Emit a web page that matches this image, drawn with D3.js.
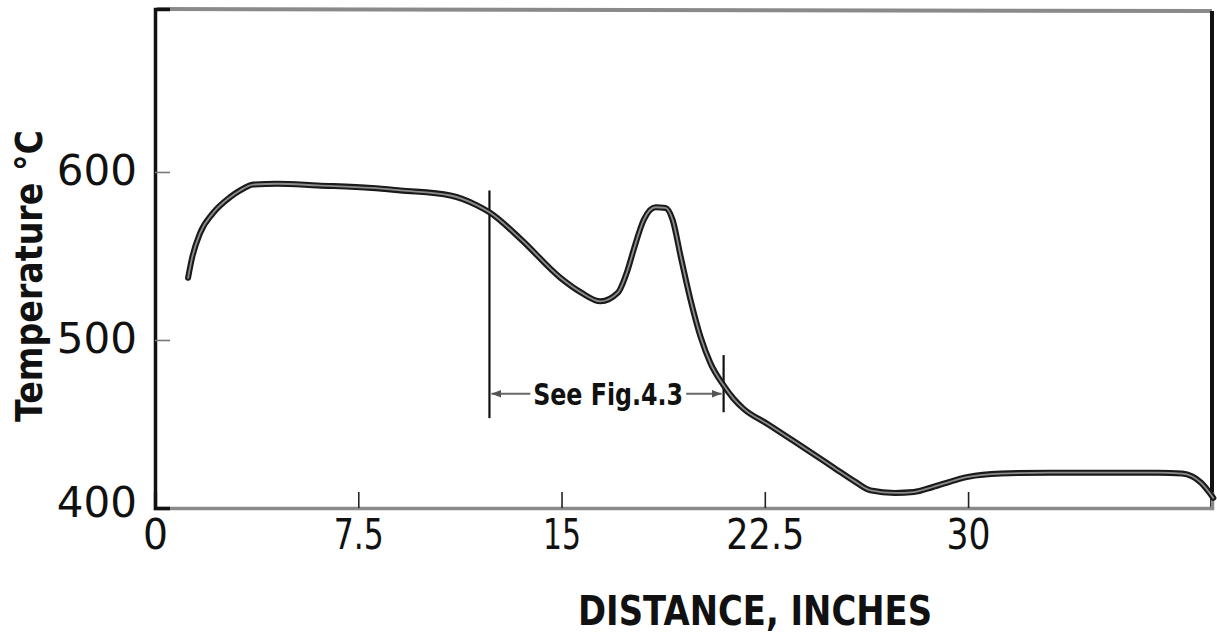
<!DOCTYPE html>
<html>
<head>
<meta charset="utf-8">
<script src="https://cdn.jsdelivr.net/npm/d3@7/dist/d3.min.js"></script>
<style>
  html, body { margin: 0; padding: 0; background: #fff; }
  svg { display: block; }
</style>
</head>
<body>
<svg id="chart" width="1217" height="638"></svg>
<script>
// ---- data ----
const distance = [1.22, 1.37, 1.66, 2.14, 2.77, 3.14, 3.62, 4.5, 6, 8, 9.05, 10.9, 11.9, 12.34, 13.5, 14.96, 15.7, 16.44, 17.07, 17.44, 17.66, 18.03, 18.47, 18.84, 19.1, 19.4, 19.76, 20.13, 20.5, 20.98, 21.35, 21.72, 22.6, 23.83, 25.05, 25.8, 26.4, 27.3, 28.0, 28.7, 29.5, 30.0, 31.2, 33, 35, 37, 37.9, 38.6, 39.05];
const temperature = [537, 549, 563.5, 575.5, 585, 589, 592.5, 593, 592, 590.5, 589, 586, 580, 576, 560, 537, 528.5, 523, 528, 541.7, 553.6, 571.4, 579, 578.6, 571.4, 549.4, 523.8, 501.8, 486, 473, 465, 459, 450, 437, 424, 416, 410.5, 409, 409.5, 412.5, 416.5, 418.5, 420.5, 421, 421, 421, 420.5, 415, 406];

const xTicks = [0, 7.5, 15, 22.5, 30];
const xTickLabels = ["0", "7.5", "15", "22.5", "30"];
const yTicks = [400, 500, 600];
const yTickLabels = ["400", "500", "600"];

const xTitle = "DISTANCE, INCHES";
const yTitle = "Temperature \u00B0C";

// annotation: bracket lines and label
const bracketX = [12.34, 20.98];
const bracketTop = [589, 491];
const bracketBottom = [453.5, 457];
const arrowY = 468;
const arrowFrom = [13.85, 19.6];
const noteLabel = "See Fig.4.3";
const noteX = 16.72;

// ---- layout ----
const svg = d3.select("#chart");
const L = 155, R = 1212, T = 9, B = 508;
const x = d3.scaleLinear().domain([0, 39]).range([L, R]);
const y = d3.scaleLinear().domain([400, 697]).range([B, T]);

const defs = svg.append("defs");
defs.append("marker")
  .attr("id", "ah")
  .attr("viewBox", "0 0 10 10")
  .attr("refX", 10).attr("refY", 5)
  .attr("markerWidth", 4.5).attr("markerHeight", 4.5)
  .attr("markerUnits", "strokeWidth")
  .attr("orient", "auto")
  .append("path").attr("d", "M0,1 L10,5 L0,9 Z").attr("fill", "#555");

// frame: top (gray) and right (black)
svg.append("line").attr("x1", L + 2).attr("x2", R).attr("y1", T).attr("y2", T + 2)
  .attr("stroke", "#8a8a8a").attr("stroke-width", 4);
svg.append("line").attr("x1", R).attr("x2", R).attr("y1", T + 2).attr("y2", B + 1)
  .attr("stroke", "#111").attr("stroke-width", 4);

// x axis
const xAxis = d3.axisBottom(x)
  .tickValues(xTicks)
  .tickSize(-16)
  .tickPadding(8)
  .tickFormat((d, i) => xTickLabels[i]);
const gx = svg.append("g").attr("transform", `translate(0,${B})`).call(xAxis);
gx.select(".domain").attr("stroke", "#8a8a8a").attr("stroke-width", 3.5);
gx.selectAll(".tick line")
  .attr("stroke", "#222").attr("stroke-width", 1.6)
  .attr("display", d => d === 0 ? "none" : null);
const xLabelWidths = {"0": 25, "7.5": 50, "15": 38, "22.5": 78, "30": 44};
gx.selectAll(".tick text")
  .attr("font-family", "DejaVu Sans, sans-serif")
  .attr("font-size", 42)
  .attr("fill", "#111")
  .attr("dy", "0.76em")
  .attr("y", 9)
  .attr("textLength", (d, i) => xLabelWidths[xTickLabels[i]])
  .attr("lengthAdjust", "spacingAndGlyphs");

// y axis
const yAxis = d3.axisLeft(y)
  .tickValues(yTicks)
  .tickSize(-15)
  .tickPadding(18)
  .tickFormat((d, i) => yTickLabels[i]);
const gy = svg.append("g").attr("transform", `translate(${L},0)`).call(yAxis);
gy.select(".domain").attr("stroke", "#111").attr("stroke-width", 3.5);
gy.selectAll(".tick line")
  .attr("stroke", "#777").attr("stroke-width", 1.6)
  .attr("display", d => d === 400 ? "none" : null);
gy.selectAll(".tick text")
  .attr("font-family", "DejaVu Sans, sans-serif")
  .attr("font-size", 42)
  .attr("fill", "#111")
  .attr("dy", d => d === 400 ? "0.2em" : "0.3em");

// axis titles
svg.append("text")
  .attr("x", 755).attr("y", 625)
  .attr("text-anchor", "middle")
  .attr("font-family", "DejaVu Sans, sans-serif")
  .attr("font-weight", "bold")
  .attr("font-size", 41)
  .attr("fill", "#111")
  .attr("textLength", 354).attr("lengthAdjust", "spacingAndGlyphs")
  .text(xTitle);

svg.append("text")
  .attr("transform", "translate(42,276) rotate(-90)")
  .attr("text-anchor", "middle")
  .attr("font-family", "DejaVu Sans, sans-serif")
  .attr("font-weight", "bold")
  .attr("font-size", 37)
  .attr("fill", "#111")
  .attr("textLength", 292).attr("lengthAdjust", "spacingAndGlyphs")
  .text(yTitle);

// annotation bracket
svg.selectAll(".bracket").data(bracketX).enter().append("line")
  .attr("class", "bracket")
  .attr("x1", d => x(d)).attr("x2", d => x(d))
  .attr("y1", (d, i) => y(bracketTop[i])).attr("y2", (d, i) => y(bracketBottom[i]))
  .attr("stroke", "#111").attr("stroke-width", 2.2);

svg.selectAll(".arrow").data(bracketX).enter().append("line")
  .attr("class", "arrow")
  .attr("x1", (d, i) => x(arrowFrom[i])).attr("x2", d => x(d) + (d < noteX ? 2 : -2))
  .attr("y1", y(arrowY)).attr("y2", y(arrowY))
  .attr("stroke", "#666").attr("stroke-width", 2.2)
  .attr("marker-end", "url(#ah)");

svg.append("text")
  .attr("x", x(noteX)).attr("y", y(arrowY))
  .attr("dy", "0.36em")
  .attr("text-anchor", "middle")
  .attr("font-family", "DejaVu Sans, sans-serif")
  .attr("font-weight", "bold")
  .attr("font-size", 31)
  .attr("fill", "#111")
  .attr("textLength", 150).attr("lengthAdjust", "spacingAndGlyphs")
  .text(noteLabel);

// curve
const pts = distance.map((d, i) => [d, temperature[i]]);
const line = d3.line()
  .x(d => x(d[0])).y(d => y(d[1]))
  .curve(d3.curveMonotoneX);
svg.append("path").datum(pts)
  .attr("d", line)
  .attr("fill", "none")
  .attr("stroke", "#1a1a1a")
  .attr("stroke-width", 6)
  .attr("stroke-linecap", "round")
  .attr("stroke-linejoin", "round");
svg.append("path").datum(pts)
  .attr("d", line)
  .attr("fill", "none")
  .attr("stroke", "#8c8c8c")
  .attr("stroke-width", 1.8)
  .attr("stroke-linecap", "round");
</script>
</body>
</html>
